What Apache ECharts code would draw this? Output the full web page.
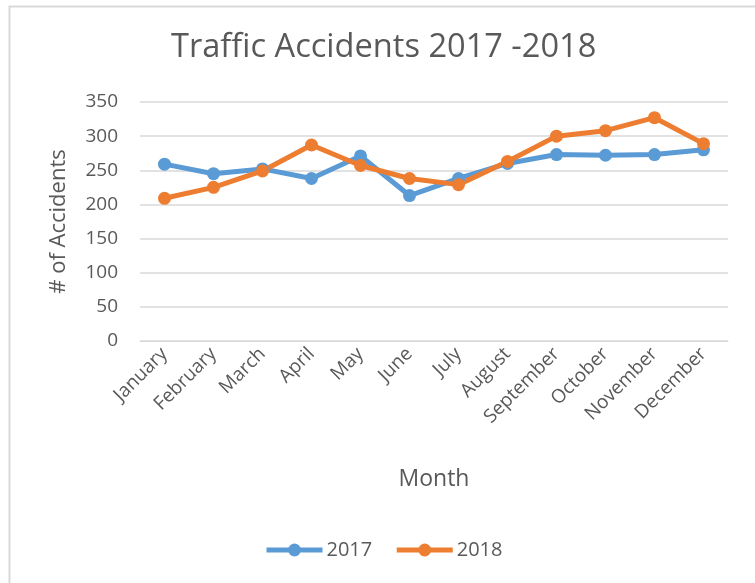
<!DOCTYPE html>
<html>
<head>
<meta charset="utf-8">
<script src="https://cdn.jsdelivr.net/npm/echarts@6/dist/echarts.min.js"></script>
<style>html,body{margin:0;padding:0;background:#fff;}#c{width:755px;height:583px;}</style>
</head>
<body>
<div id="c"></div>
<script>
const months = ['January','February','March','April','May','June','July','August','September','October','November','December'];
const values2017 = [259, 245, 252, 238, 271, 213, 238, 260, 273, 272, 273, 280];
const values2018 = [209, 225, 249, 287, 257, 238, 229, 263, 300, 308, 327, 289];
const yTicks = [0, 50, 100, 150, 200, 250, 300, 350];

const FONT = '"Open Sans", sans-serif';
const TXT = '#595959';
const chart = echarts.init(document.getElementById('c'), null, {renderer: 'canvas'});
chart.setOption({
  backgroundColor: '#ffffff',
  animation: false,
  graphic: [{
    type: 'rect', left: 7, top: 4, shape: {width: 900, height: 800},
    style: {fill: 'none', stroke: '#d9d9d9', lineWidth: 2}, silent: true, z: -1
  }],
  title: {
    text: 'Traffic Accidents 2017 -2018',
    left: 166, top: 26,
    textStyle: {fontFamily: FONT, fontSize: 32.6, fontWeight: 'normal', color: TXT}
  },
  legend: {
    bottom: 18, left: 259,
    itemWidth: 56, itemHeight: 16, itemGap: 22,
    lineStyle: {width: 5},
    textStyle: {fontFamily: FONT, fontSize: 20, color: TXT, padding: [0, 0, 0, -1]},
    data: ['2017', '2018']
  },
  grid: {left: 140, right: 27, top: 102, bottom: 242, containLabel: false},
  xAxis: {
    type: 'category', data: months, boundaryGap: true,
    name: 'Month', nameLocation: 'middle', nameGap: 127,
    nameTextStyle: {fontFamily: FONT, fontSize: 23, color: TXT},
    axisLine: {show: true, lineStyle: {color: '#d9d9d9', width: 1}},
    axisTick: {show: false},
    axisLabel: {rotate: 45, margin: 10, fontFamily: FONT, fontSize: 19, color: TXT, interval: 0}
  },
  yAxis: {
    type: 'value', min: 0, max: 350, interval: 50,
    name: '# of Accidents', nameLocation: 'middle', nameGap: 70,
    nameTextStyle: {fontFamily: FONT, fontSize: 22, color: TXT},
    axisLine: {show: false}, axisTick: {show: false},
    axisLabel: {margin: 22, fontFamily: FONT, fontSize: 19, color: TXT,
      formatter: v => yTicks.includes(v) ? String(v) : ''},
    splitLine: {lineStyle: {color: '#d9d9d9', width: 1.5}}
  },
  series: [
    {name: '2017', type: 'line', data: values2017, symbol: 'circle', symbolSize: 13,
     lineStyle: {color: '#5B9BD5', width: 5}, itemStyle: {color: '#5B9BD5'}},
    {name: '2018', type: 'line', data: values2018, symbol: 'circle', symbolSize: 13,
     lineStyle: {color: '#ED7D31', width: 5}, itemStyle: {color: '#ED7D31'}}
  ]
});
</script>
</body>
</html>
